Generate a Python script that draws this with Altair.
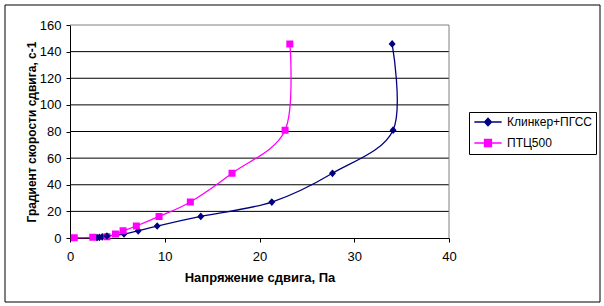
import altair as alt
import pandas as pd

series_names = ["Клинкер+ПГСС", "ПТЦ500"]

blue_x = [2.85, 3.1, 3.4, 3.9, 5.7, 7.2, 9.2, 13.8, 21.3, 27.7, 34.1, 34.0]
blue_y = [0.3, 0.5, 0.9, 1.5, 3.0, 5.4, 9.0, 16.2, 27.0, 48.6, 81.0, 145.8]

mag_x = [0.45, 2.4, 3.9, 4.8, 5.6, 7.0, 9.4, 12.7, 17.1, 22.7, 23.2]
mag_y = [0.17, 0.5, 0.9, 3.0, 5.4, 9.0, 16.2, 27.0, 48.6, 81.0, 145.8]

x_ticks = [0, 10, 20, 30, 40]
y_ticks = [0, 20, 40, 60, 80, 100, 120, 140, 160]
grid_vals = [20, 40, 60, 80, 100, 120, 140]

colors = ["#000080", "#FF00FF"]
diamond = "M-3.9,0H3.9M0,-1.1L1,0L0,1.1L-1,0Z"
square = "M-3.9,0H3.9M-1,-1H1V1H-1Z"

rows = []
for i, (x, y) in enumerate(zip(blue_x, blue_y)):
    rows.append({"series": series_names[0], "x": x, "y": y, "idx": i})
for i, (x, y) in enumerate(zip(mag_x, mag_y)):
    rows.append({"series": series_names[1], "x": x, "y": y, "idx": i})
df = pd.DataFrame(rows)

FONT = "Liberation Sans"

xs = alt.Scale(domain=[0, 40], nice=False)
ys = alt.Scale(domain=[0, 160], nice=False)

legend = alt.Legend(
    title=None, orient="none", legendX=399, legendY=87,
    strokeColor="black", fillColor="white", padding=4,
    labelFont=FONT, labelFontSize=12, labelColor="black",
    symbolSize=49, symbolStrokeWidth=1.3, rowPadding=7,
    symbolOffset=9, labelOffset=13,
)
color = alt.Color(
    "series:N",
    scale=alt.Scale(domain=series_names, range=colors),
    legend=legend,
)
shape = alt.Shape(
    "series:N",
    scale=alt.Scale(domain=series_names, range=[diamond, square]),
    legend=legend,
)

xaxis = alt.Axis(
    values=x_ticks, title="Напряжение сдвига, Па", grid=False, labelFlush=False,
    domainColor="black", tickColor="black", tickSize=4, labelPadding=8,
    labelFont=FONT, labelFontSize=13, labelColor="black",
    titleFont=FONT, titleFontSize=13, titleFontWeight="bold", titleColor="black",
    titlePadding=8,
)
yaxis = alt.Axis(
    values=y_ticks, title="Градиент скорости сдвига, с-1", grid=False, labelFlush=False,
    domainColor="black", tickColor="black", tickSize=4, labelPadding=5,
    labelFont=FONT, labelFontSize=13, labelColor="black",
    titleFont=FONT, titleFontSize=12, titleFontWeight="bold", titleColor="black",
    titlePadding=1,
)

frame = alt.Chart(pd.DataFrame({"a": [0]})).mark_rect(
    fill=None, stroke="black", strokeWidth=1, clip=False
).encode(
    x=alt.value(-65), x2=alt.value(530), y=alt.value(-20), y2=alt.value(277)
)

grid = alt.Chart(pd.DataFrame({"y": grid_vals})).mark_rule(
    color="black", strokeWidth=1
).encode(y=alt.Y("y:Q", scale=ys, axis=yaxis))

top_border = alt.Chart(pd.DataFrame({"y": [160]})).mark_rule(
    color="#808080", strokeWidth=1
).encode(y=alt.Y("y:Q", scale=ys, axis=yaxis))

right_border = alt.Chart(pd.DataFrame({"x": [40]})).mark_rule(
    color="#808080", strokeWidth=1
).encode(x=alt.X("x:Q", scale=xs, axis=xaxis))

base = alt.Chart(df).encode(
    x=alt.X("x:Q", scale=xs, axis=xaxis),
    y=alt.Y("y:Q", scale=ys, axis=yaxis),
    color=color,
    order=alt.Order("idx:Q"),
)

lines = base.mark_line(interpolate="cardinal", strokeWidth=1.3)
points = base.mark_point(filled=True, size=49, opacity=1).encode(shape=shape)

chart = alt.layer(frame, grid, top_border, right_border, lines, points).properties(
    width=379, height=213,
    autosize=alt.AutoSizeParams(type="none"),
    padding={"left": 70, "top": 25, "right": 155, "bottom": 68},
    background="white",
).configure_view(stroke=None)

chart.save("out.html", embed_options={"renderer": "svg", "actions": False})
